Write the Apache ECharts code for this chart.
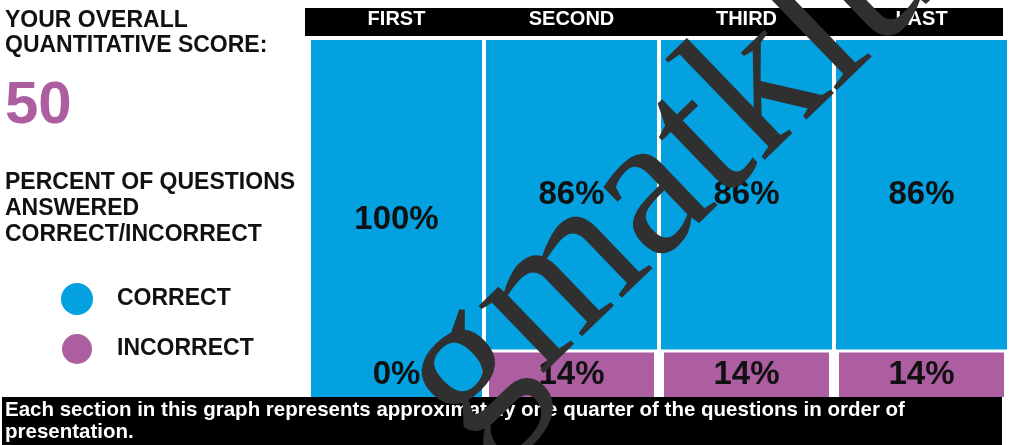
<!DOCTYPE html>
<html><head><meta charset="utf-8">
<script src="https://cdn.jsdelivr.net/npm/echarts@6/dist/echarts.min.js"></script>
<style>html,body{margin:0;padding:0;background:#fff}#c{width:1009px;height:445px}</style>
</head><body><div id="c"></div>
<script>
var sections = ['FIRST', 'SECOND', 'THIRD', 'LAST'];
var correct = [100, 86, 86, 86];
var incorrect = [0, 14, 14, 14];
var score = '50';

var BLUE = '#03a1e0', PURPLE = '#ad5ea1';
var F = 'Liberation Sans, Arial, Helvetica, sans-serif';
var chart = echarts.init(document.getElementById('c'));

function t(txt, x, y, size, color) {
  return { type: 'text', x: x, y: y, z: 5,
    style: { text: txt, fill: color || '#111', font: 'bold ' + size + 'px ' + F, textVerticalAlign: 'middle' } };
}

chart.setOption({
  animation: false,
  grid: { left: 309, right: 0, top: 40, bottom: 45 },
  xAxis: {
    type: 'category', position: 'top', data: sections,
    axisLine: { show: false }, axisTick: { show: false },
    axisLabel: { color: '#fff', fontSize: 20, fontWeight: 'bold', fontFamily: F, margin: 11 },
    z: 10
  },
  yAxis: { type: 'value', min: 0, max: 100, show: false, splitLine: { show: false } },
  legend: {
    data: ['CORRECT', 'INCORRECT'], orient: 'vertical', left: 55, top: 278,
    icon: 'circle', itemWidth: 32, itemHeight: 32, itemGap: 17,
    textStyle: { fontSize: 23, fontWeight: 'bold', fontFamily: F, color: '#111', padding: [0, 0, 0, 19] },
    selectedMode: false
  },
  series: [
    { name: 'INCORRECT', type: 'bar', stack: 's', barWidth: 171,
      data: incorrect.map(function (v, i) {
        return i === 0 && v === 0 ? { value: v, label: { offset: [0, -25] } } : v;
      }),
      itemStyle: { color: PURPLE, borderColor: '#fff', borderWidth: 3 },
      label: { show: true, position: 'inside', formatter: '{c}%', color: '#111', fontSize: 33, fontWeight: 'bold', fontFamily: F }
    },
    { name: 'CORRECT', type: 'bar', stack: 's', barWidth: 171,
      data: correct,
      itemStyle: { color: BLUE },
      label: { show: true, position: 'inside', formatter: '{c}%', color: '#111', fontSize: 33, fontWeight: 'bold', fontFamily: F }
    }
  ],
  graphic: [
    { type: 'rect', z: -10, shape: { x: 305, y: 8, width: 698, height: 28 }, style: { fill: '#000' } },
    t('YOUR OVERALL', 5, 21, 23),
    t('QUANTITATIVE SCORE:', 5, 46, 23),
    t(score, 5, 106, 60, PURPLE),
    t('PERCENT OF QUESTIONS', 5, 183, 23),
    t('ANSWERED', 5, 209, 23),
    t('CORRECT/INCORRECT', 5, 235, 23),
    { type: 'rect', z: 20, shape: { x: 2, y: 397, width: 1000, height: 48 }, style: { fill: '#000' } },
    { type: 'text', z: 21, x: 5, y: 410, style: { text: 'Each section in this graph represents approximately one quarter of the questions in order of', fill: '#fff', font: 'bold 20.5px ' + F, textVerticalAlign: 'middle' } },
    { type: 'text', z: 21, x: 5, y: 432, style: { text: 'presentation.', fill: '#fff', font: 'bold 20.5px ' + F, textVerticalAlign: 'middle' } },
    { type: 'text', z: 30, x: 707, y: 141, rotation: 44 * Math.PI / 180,
      style: { text: 'gmatklub', fill: '#303030', font: '204px Liberation Serif, Times New Roman, serif', textAlign: 'center', textVerticalAlign: 'middle' } }
  ]
});
</script></body></html>
